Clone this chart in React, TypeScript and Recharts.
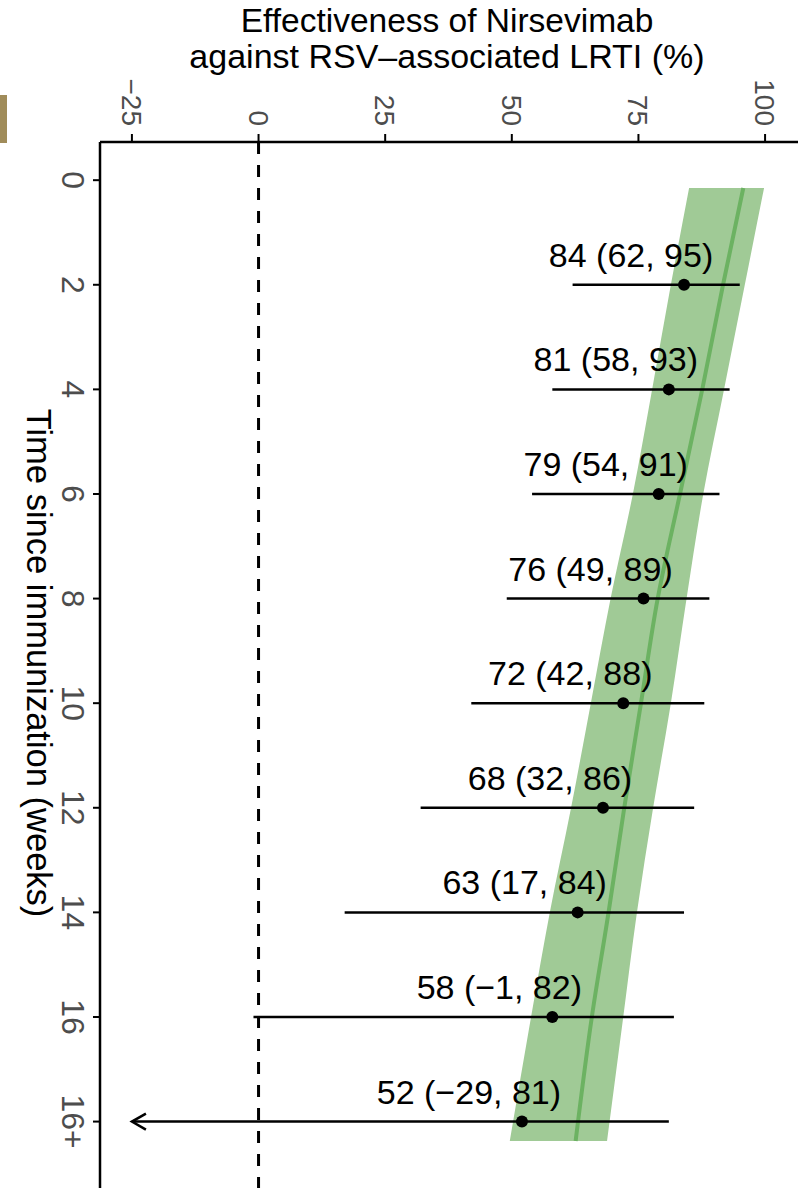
import React from 'react';
import { ComposedChart, Area, Line, XAxis, YAxis, ReferenceLine, ErrorBar } from 'recharts';

// ---- data ----
const weekTicks = [0, 2, 4, 6, 8, 10, 12, 14, 16, 18];
const weekTickLabels = ['0', '2', '4', '6', '8', '10', '12', '14', '16', '16+'];
const effTicks = [-25, 0, 25, 50, 75, 100];
const effTickLabels = ['\u221225', '0', '25', '50', '75', '100'];

const pointWeeks = [2, 4, 6, 8, 10, 12, 14, 16, 18];
const estimates = [84, 81, 79, 76, 72, 68, 63, 58, 52];
const ciLower = [62, 58, 54, 49, 42, 32, 17, -1, -29];
const ciUpper = [95, 93, 91, 89, 88, 86, 84, 82, 81];

const bandWeeks = [0.15, 2, 4, 6, 8, 10, 12, 14, 16, 18.37];
const bandLower = [85.0, 81.4, 77.7, 73.9, 69.5, 65.6, 61.7, 57.5, 53.8, 49.6];
const bandMid = [95.7, 91.7, 87.6, 83.2, 78.8, 75.5, 72.2, 69.1, 65.8, 62.6];
const bandUpper = [99.8, 96.0, 91.9, 87.8, 84.5, 81.4, 77.9, 74.7, 72.0, 68.8];

const X_DOMAIN: [number, number] = [-31.3, 106.5];
const Y_DOMAIN: [number, number] = [-0.73, 19.27];
const ARROW_LIMIT = -25;

const fmt = (v: number) => (v < 0 ? '\u2212' + Math.abs(v) : String(v));

const pointData = pointWeeks.map((t, i) => {
  const lowShown = Math.max(ciLower[i], ARROW_LIMIT);
  return {
    t,
    est: estimates[i],
    err: [estimates[i] - lowShown, ciUpper[i] - estimates[i]],
    arrow: ciLower[i] < ARROW_LIMIT ? ARROW_LIMIT : null,
    label: `${fmt(estimates[i])} (${fmt(ciLower[i])}, ${fmt(ciUpper[i])})`,
  };
});

const bandData = bandWeeks.map((t, i) => ({
  t,
  band: [bandLower[i], bandUpper[i]],
  mid: bandMid[i],
}));

const FONT = '"Liberation Sans", Arial, Helvetica, sans-serif';

const TopTick = (props: any) => {
  const { x, payload } = props;
  const idx = effTicks.indexOf(payload.value);
  return (
    <text
      transform={`translate(${x},126) rotate(90)`}
      textAnchor="end"
      dy={10}
      fontSize={28}
      fontFamily={FONT}
      fill="#4d4d4d"
    >
      {effTickLabels[idx]}
    </text>
  );
};

const LeftTick = (props: any) => {
  const { y, payload } = props;
  const idx = weekTicks.indexOf(payload.value);
  return (
    <text
      transform={`translate(62,${y}) rotate(90)`}
      textAnchor="middle"
      fontSize={32}
      fontFamily={FONT}
      fill="#4d4d4d"
    >
      {weekTickLabels[idx]}
    </text>
  );
};

const EstDot = (props: any) => {
  const { cx, cy, index, payload } = props;
  if (cx == null || cy == null) return <g key={`d${index}`} />;
  return (
    <g key={`d${index}`}>
      <circle cx={cx} cy={cy} r={6} fill="#000" />
      <text x={cx - 53} y={cy - 18} textAnchor="middle" fontSize={34} fontFamily={FONT} fill="#000">
        {payload.label}
      </text>
    </g>
  );
};

const ArrowDot = (props: any) => {
  const { cx, cy, index } = props;
  if (cx == null || cy == null || Number.isNaN(cx)) return <g key={`a${index}`} />;
  return (
    <path
      key={`a${index}`}
      d={`M${cx + 14},${cy - 8} L${cx},${cy} L${cx + 14},${cy + 8}`}
      fill="none"
      stroke="#000"
      strokeWidth={2.5}
    />
  );
};

export default function App() {
  return (
    <div style={{ position: 'absolute', left: 0, top: 0, width: 798, height: 1188, background: '#fff' }}>
      <ComposedChart
        width={798}
        height={1188}
        layout="vertical"
        margin={{ top: 0, right: 0, bottom: 0, left: 0 }}
      >
        <rect x={0} y={95} width={7} height={48} fill="#a08c5a" />
        <text x={447} y={32} textAnchor="middle" fontSize={33.5} fontFamily={FONT} fill="#000">
          Effectiveness of Nirsevimab
        </text>
        <text x={447} y={68} textAnchor="middle" fontSize={34} fontFamily={FONT} fill="#000">
          against RSV–associated LRTI (%)
        </text>
        <text
          transform="translate(27,663) rotate(90)"
          textAnchor="middle"
          fontSize={34.5}
          fontFamily={FONT}
          fill="#000"
        >
          Time since immunization (weeks)
        </text>
        <XAxis
          type="number"
          orientation="top"
          domain={X_DOMAIN}
          allowDataOverflow
          ticks={effTicks}
          height={142}
          tick={<TopTick />}
          tickSize={8}
          axisLine={{ stroke: '#000', strokeWidth: 2.5 }}
          tickLine={{ stroke: '#000', strokeWidth: 2 }}
        />
        <YAxis
          type="number"
          dataKey="t"
          domain={Y_DOMAIN}
          allowDataOverflow
          ticks={weekTicks}
          width={100}
          tick={<LeftTick />}
          tickSize={7}
          axisLine={{ stroke: '#000', strokeWidth: 2.5 }}
          tickLine={{ stroke: '#000', strokeWidth: 2 }}
        />
        <Area
          data={bandData}
          dataKey="band"
          type="monotone"
          fill="#a0ca96"
          fillOpacity={1}
          stroke="none"
          isAnimationActive={false}
        />
        <Line
          data={bandData}
          dataKey="mid"
          type="monotone"
          stroke="#6cb262"
          strokeWidth={4}
          dot={false}
          isAnimationActive={false}
        />
        <ReferenceLine x={0} stroke="#000" strokeWidth={3} strokeDasharray="12 11" />
        <Line
          data={pointData}
          dataKey="est"
          stroke="none"
          dot={<EstDot />}
          activeDot={false}
          isAnimationActive={false}
        >
          <ErrorBar dataKey="err" direction="x" width={0} stroke="#000" strokeWidth={2.5} />
        </Line>
        <Line
          data={pointData}
          dataKey="arrow"
          stroke="none"
          dot={<ArrowDot />}
          activeDot={false}
          isAnimationActive={false}
        />
      </ComposedChart>
    </div>
  );
}
